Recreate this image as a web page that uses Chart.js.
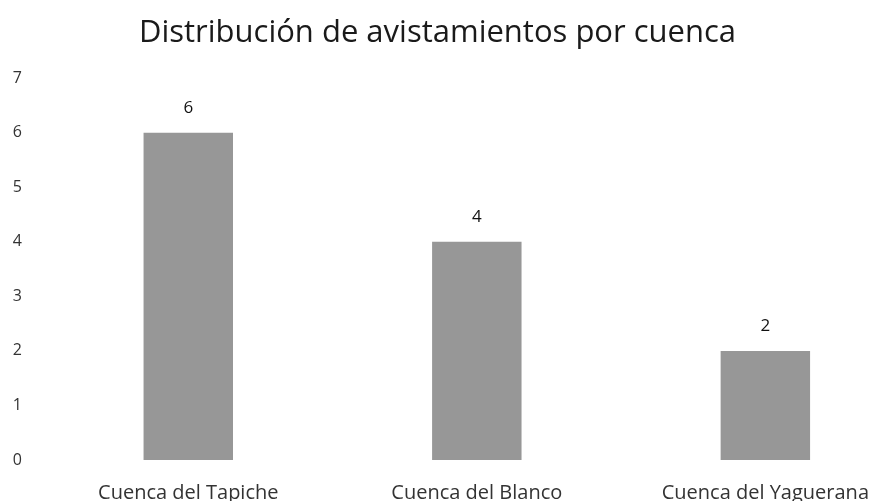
<!DOCTYPE html>
<html>
<head>
<meta charset="utf-8">
<script src="https://cdn.jsdelivr.net/npm/chart.js@4/dist/chart.umd.min.js"></script>
<style>
    html, body { margin: 0; padding: 0; background: #fff; overflow: hidden; }
    #wrap { width: 875px; height: 501px; }
</style>
</head>
<body>
<div id="wrap"><canvas id="grafico"></canvas></div>
<script>
const cuencas = ["Cuenca del Tapiche", "Cuenca del Blanco", "Cuenca del Yaguerana"];
const avistamientos = [6, 4, 2];
const marcasY = [0, 1, 2, 3, 4, 5, 6, 7];

const fuente = "'Open Sans', 'Noto Sans', sans-serif";

// etiquetas con el valor encima de cada barra
const etiquetasValor = {
    id: "etiquetasValor",
    afterDatasetsDraw(chart) {
        const ctx = chart.ctx;
        const meta = chart.getDatasetMeta(0);
        ctx.save();
        ctx.font = "17px " + fuente;
        ctx.fillStyle = "#111";
        ctx.textAlign = "center";
        ctx.textBaseline = "middle";
        meta.data.forEach((barra, i) => {
            ctx.fillText(String(avistamientos[i]), barra.x, barra.y - 25);
        });
        ctx.restore();
    }
};

// el eje x es lineal para que la tercera categoria quede cortada a la derecha como en el original
const puntos = cuencas.map((c, i) => ({ x: i, y: avistamientos[i] }));

new Chart(document.getElementById("grafico"), {
    type: "bar",
    data: {
        datasets: [{
            label: "Avistamientos",
            data: puntos,
            backgroundColor: "#979797",
            categoryPercentage: 1,
            barPercentage: 0.31
        }]
    },
    options: {
        responsive: true,
        maintainAspectRatio: false,
        animation: false,
        layout: { padding: 0 },
        plugins: {
            legend: { display: false },
            tooltip: { enabled: false },
            title: {
                display: true,
                text: "Distribución de avistamientos por cuenca",
                color: "#1a1a1a",
                font: { family: fuente, size: 31, weight: "normal" },
                padding: { top: 15, bottom: 26 }
            }
        },
        scales: {
            x: {
                type: "linear",
                offset: false,
                min: -0.5,
                max: 2.38,
                afterBuildTicks(scale) {
                    scale.ticks = cuencas.map((c, i) => ({ value: i }));
                },
                afterFit(scale) {
                    scale.height = 41;
                    scale.paddingLeft = 0;
                    scale.paddingRight = 0;
                },
                grid: { display: false, drawTicks: false, offset: false },
                border: { display: false },
                ticks: {
                    color: "#333",
                    font: { family: fuente, size: 20 },
                    padding: 21,
                    maxRotation: 0,
                    autoSkip: false,
                    callback: (v) => cuencas[v]
                }
            },
            y: {
                min: 0,
                max: 7,
                afterBuildTicks(scale) {
                    scale.ticks = marcasY.map(v => ({ value: v }));
                },
                afterFit(scale) { scale.width = 44; },
                grid: { display: false, drawTicks: false },
                border: { display: false },
                ticks: {
                    color: "#333",
                    font: { family: fuente, size: 16 },
                    padding: 22
                }
            }
        }
    },
    plugins: [etiquetasValor]
});
</script>
</body>
</html>
